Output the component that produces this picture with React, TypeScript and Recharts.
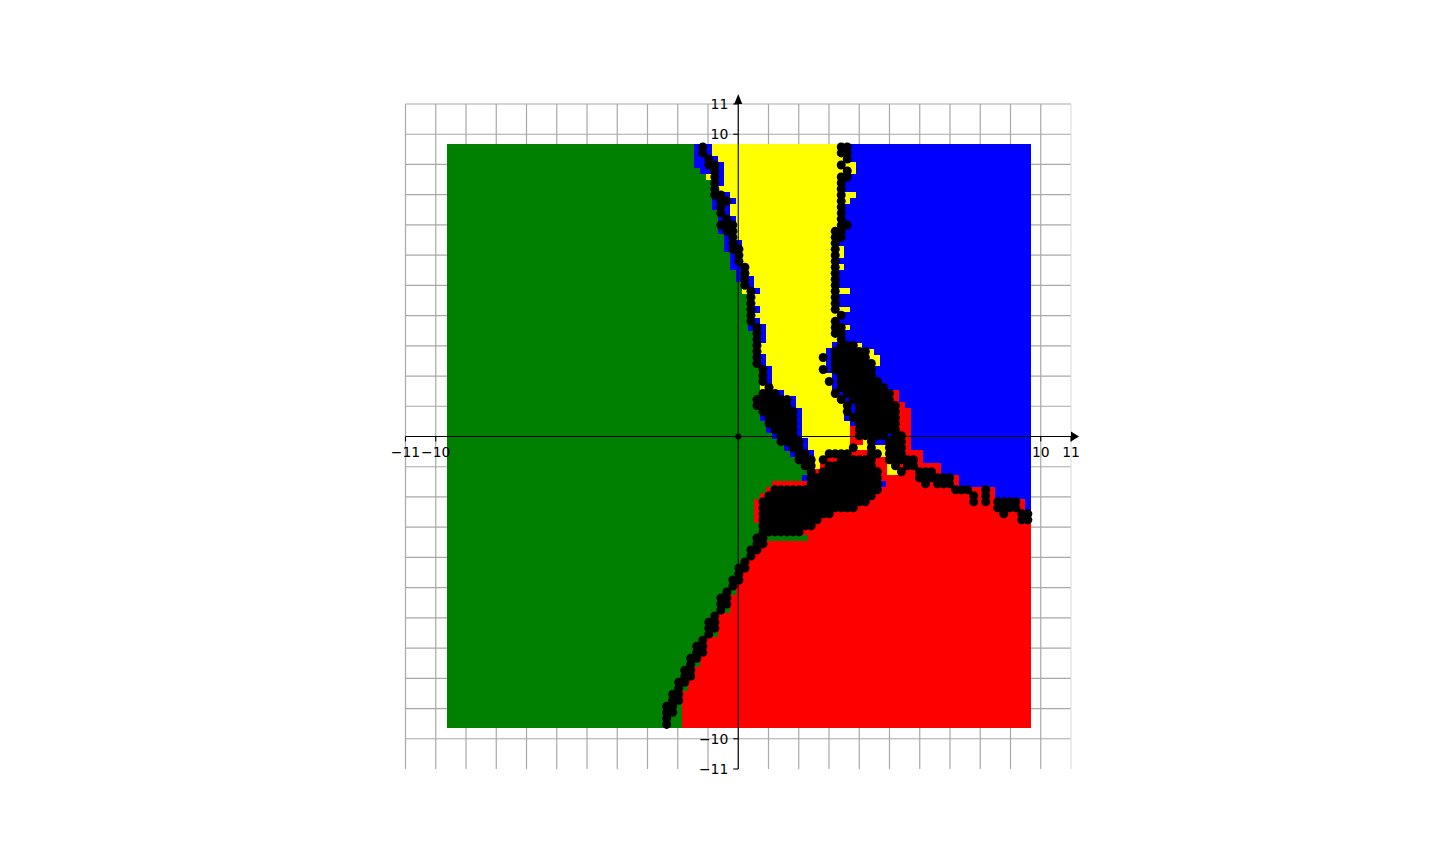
import {
  CartesianGrid,
  ReferenceDot,
  ReferenceLine,
  Scatter,
  ScatterChart,
  XAxis,
  YAxis,
} from "recharts";

// grid lines sit on every integer, only the outer ones carry labels
const gridTicks = [
  -11, -10, -9, -8, -7, -6, -5, -4, -3, -2, -1, 0, 1, 2, 3, 4, 5, 6, 7, 8, 9, 10, 11,
];
const labelledTicks = [-11, -10, 10, 11];
const horizontalGrid = gridTicks.filter((t) => t !== -11);
const verticalGrid = gridTicks.filter((t) => t !== 11);

// sample spacing of the classified plane
const firstColumn = -9.53;
const firstRow = 9.58;
const sampleStep = 0.199;

// one string per sample row, top to bottom. Letter = class, number = column where that run ends
const rowRuns = [
  "G41B42K43B44Y65K67B97",
  "G41B42K43B44Y65K67B97",
  "G41B43K44B45Y66K67B97",
  "G41B43K45B46Y65K66Y68B97",
  "G42B44K45B46Y66K67Y68B97",
  "G43Y44K45B46Y65K67B97",
  "G44K45B46Y65K66B97",
  "G44K45Y65K66B97",
  "G44K46B47Y65K66Y68B97",
  "G44B45K47B48Y65K66Y67B97",
  "G44B45K46B47Y65K66B97",
  "G45K46B47Y65K66B97",
  "G45B46K47B48Y65K66B97",
  "G45K48Y65K67B97",
  "G45B46K48Y64K66B97",
  "G46B47K48Y64K66B97",
  "G46B47K48B49Y64K65B97",
  "G46B47K49Y64K65Y66B97",
  "G47B48K49Y64K65Y66B97",
  "G47B48K49Y64K65B97",
  "G47B49K50Y64K65Y66B97",
  "G48B49K50Y64K65B97",
  "G48B49K50B51Y64K65B97",
  "G49K50B51Y64K65B97",
  "G49Y50K51B52Y64K65Y67B97",
  "G50K51Y64K65B97",
  "G50K51Y64K65B97",
  "G50K51B52Y64K65Y67B97",
  "G50K51Y65K66B97",
  "G50K51B52Y64K65B97",
  "G50B51K52B53Y64K66Y67B97",
  "G51K52B53Y64K66B97",
  "G51K52B53Y65K66B97",
  "G51K52Y64B65K68Y69B97",
  "G51K52Y63B64K70Y71B97",
  "G51K52B53Y62K63B64K70Y72B97",
  "G51K52B53Y63B64K71Y72B97",
  "G52K53B54Y62K63B64K71B97",
  "G52K53B54Y64B65K71B97",
  "G52K53B54Y63K64B65K72B97",
  "G52Y53K54Y64B65K73B97",
  "G52K55B56Y64K65B66K74R75B97",
  "G51K57B58Y65K66B67K74R75B97",
  "G51K57B58Y66K67B68K75R76B97",
  "G52K58B59Y66K67B68K75R77B97",
  "G52B53K58B59Y66B67K75R77B97",
  "G53K58B59Y67B68K75R77B97",
  "G53B54K58B59Y67R68K75R77B97",
  "G54B55K58B59Y67R68K73B74K76R77B97",
  "G55K59B60Y67R69Y70K71B73K76R77B97",
  "G56B57K59B60Y67K68Y70K71Y73K76R77B97",
  "G57B58K60B61Y63K67R70K72Y73K76R79B97",
  "G58K61Y62K63R65K71R73K78R79B97",
  "G59K61Y62R63K71R73Y74K75R76K78R82B97",
  "G60K61R62K72R73Y75K76R78K81R82B97",
  "G59B60K72R78K84R85B97",
  "G54R60K72B73R79K80R81K84R85B97",
  "G53R54K72R84K87R89K90R91B97",
  "G52R53K71R87K88R89K90R91B97",
  "G51R52K70R87K88R89K90R91K95R96B97",
  "G51R52K68R91K95R96B97",
  "G51R52K64R92K93R95K97",
  "G51R52K62R95K97",
  "G52K61R97",
  "G52K59R97",
  "G51K53G60R97",
  "G51K53R97",
  "G50K52R97",
  "G50K51R97",
  "G49K50R97",
  "G48K50R97",
  "G48K49R97",
  "G47K49R97",
  "G47K48R97",
  "G46K47G48R97",
  "G45K47R97",
  "G45K47R97",
  "G45K46G47R97",
  "G44K45R97",
  "G43K45R97",
  "G43K45R97",
  "G43K44G45R97",
  "G42K43R97",
  "G41K43R97",
  "G41K43R97",
  "G40K42R97",
  "G40K41G42R97",
  "G39K41R97",
  "G39K41R97",
  "G38K40R97",
  "G38K39G40R97",
  "G37K39R97",
  "G37K39R97",
  "G36K38G39R97",
  "G36K38G39R97",
  "G36K37G39R97",
  "G36K37G39R97",
];

type Sample = { x: number; y: number };

function samplesOf(letter: string): Sample[] {
  const out: Sample[] = [];
  rowRuns.forEach((row, r) => {
    let col = 0;
    for (const m of row.matchAll(/([GYBRK])(\d+)/g)) {
      const end = Number(m[2]);
      if (m[1] === letter) {
        for (let c = col; c < end; c++) {
          out.push({ x: firstColumn + c * sampleStep, y: firstRow - r * sampleStep });
        }
      }
      col = end;
    }
  });
  return out;
}

const cellShape = (fill: string) => (p: any) =>
  <rect x={p.cx - 3.2} y={p.cy - 3.2} width={6.4} height={6.4} fill={fill} shapeRendering="crispEdges" />;

const blackDot = (p: any) => <circle cx={p.cx} cy={p.cy} r={4.5} fill="#000" />;

const tickFont = { fontFamily: "DejaVu Sans", fontSize: 13.9, fill: "#000" };

function XTick({ x, y, payload }: any) {
  if (!labelledTicks.includes(payload.value)) return null;
  const midY = y - 332.5;
  const label = String(payload.value).replace("-", "\u2212");
  return (
    <g>
      <line x1={x} x2={x} y1={midY} y2={midY + 5} stroke="#000" strokeWidth={1.1} />
      <text x={x} y={midY + 20.5} textAnchor="middle" {...tickFont}>
        {label}
      </text>
    </g>
  );
}

function YTick({ x, y, payload }: any) {
  if (!labelledTicks.includes(payload.value)) return null;
  const midX = x + 332.75;
  const label = String(payload.value).replace("-", "\u2212");
  return (
    <g>
      <line x1={midX - 5} x2={midX} y1={y} y2={y} stroke="#000" strokeWidth={1.1} />
      <text x={midX - 10} y={y + 5} textAnchor="end" {...tickFont}>
        {label}
      </text>
    </g>
  );
}

const arrowRight = (p: any) => (
  <path d={`M${p.cx} ${p.cy - 5}L${p.cx + 8} ${p.cy}L${p.cx} ${p.cy + 5}Z`} fill="#000" />
);
const arrowUp = (p: any) => (
  <path d={`M${p.cx - 4} ${p.cy}L${p.cx} ${p.cy - 10}L${p.cx + 4} ${p.cy}Z`} fill="#000" />
);

export default function App() {
  return (
    <div style={{ position: "absolute", left: 0, top: 0 }}>
      <ScatterChart
        width={1440}
        height={864}
        margin={{ left: 404.5, right: 369, top: 104, bottom: 94 }}
      >
        <CartesianGrid
          stroke="#a8a8a8"
          strokeWidth={1.2}
          horizontalValues={horizontalGrid}
          verticalValues={verticalGrid}
        />
        <XAxis
          type="number"
          dataKey="x"
          domain={[-11, 11]}
          ticks={gridTicks}
          interval={0}
          height={1}
          tickSize={0}
          tickMargin={0}
          axisLine={false}
          tickLine={false}
          tick={<XTick />}
        />
        <YAxis
          type="number"
          dataKey="y"
          domain={[-11, 11]}
          ticks={gridTicks}
          interval={0}
          width={1}
          tickSize={0}
          tickMargin={0}
          axisLine={false}
          tickLine={false}
          tick={<YTick />}
        />
        <ReferenceLine x={11} stroke="#dcdcdc" strokeWidth={1.1} />
        <Scatter data={samplesOf("G")} shape={cellShape("#008000")} isAnimationActive={false} />
        <Scatter data={samplesOf("Y")} shape={cellShape("#ffff00")} isAnimationActive={false} />
        <Scatter data={samplesOf("B")} shape={cellShape("#0000ff")} isAnimationActive={false} />
        <Scatter data={samplesOf("R")} shape={cellShape("#ff0000")} isAnimationActive={false} />
        <Scatter data={samplesOf("K")} shape={blackDot} isAnimationActive={false} />
        <ReferenceLine x={0} stroke="#000" strokeWidth={1.1} zIndex={700} />
        <ReferenceLine y={0} stroke="#000" strokeWidth={1.1} zIndex={700} />
        <ReferenceDot x={0} y={0} r={3} fill="#000" stroke="none" zIndex={700} />
        <ReferenceDot x={11} y={0} shape={arrowRight} ifOverflow="visible" zIndex={700} />
        <ReferenceDot x={0} y={11} shape={arrowUp} ifOverflow="visible" zIndex={700} />
      </ScatterChart>
    </div>
  );
}
